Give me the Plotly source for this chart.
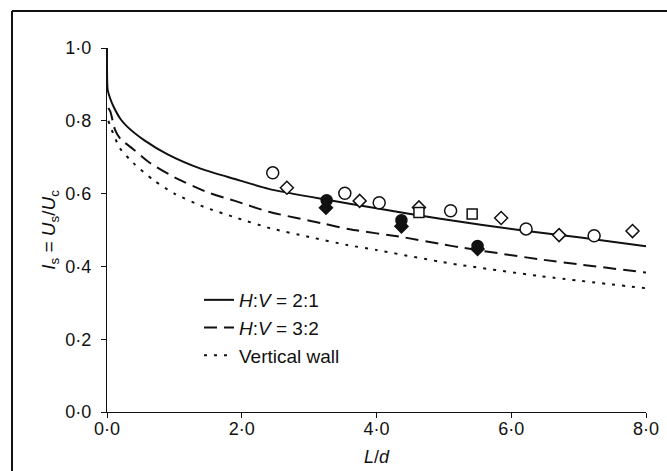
import plotly.graph_objects as go

# ---- data ----
x_solid = [0.0, 0.01, 0.05, 0.1, 0.2, 0.3, 0.55, 0.9, 1.4, 1.9, 2.4, 3.2, 4.0, 4.9, 6.2, 7.0, 8.0]
y_solid = [1.0, 0.885, 0.860, 0.838, 0.805, 0.784, 0.747, 0.708, 0.668, 0.640, 0.613, 0.585, 0.560, 0.532, 0.498, 0.480, 0.455]

x_dash = [0.02, 0.05, 0.12, 0.2, 0.39, 0.64, 1.0, 1.5, 1.9, 2.4, 3.2, 3.6, 4.4, 5.0, 5.25, 6.4, 8.0]
y_dash = [0.835, 0.825, 0.775, 0.750, 0.722, 0.684, 0.645, 0.603, 0.580, 0.550, 0.518, 0.502, 0.480, 0.460, 0.452, 0.420, 0.383]

x_dot = [0.02, 0.07, 0.19, 0.39, 0.69, 1.0, 1.43, 1.93, 2.42, 3.0, 3.56, 4.0, 4.94, 5.24, 6.4, 8.0]
y_dot = [0.800, 0.775, 0.725, 0.684, 0.637, 0.600, 0.564, 0.533, 0.505, 0.481, 0.459, 0.445, 0.413, 0.404, 0.374, 0.340]

circ_x = [2.46, 3.53, 4.04, 5.10, 6.22, 7.23]
circ_y = [0.657, 0.601, 0.575, 0.553, 0.503, 0.484]
diam_x = [2.67, 3.75, 4.63, 5.85, 6.71, 7.80]
diam_y = [0.616, 0.580, 0.562, 0.533, 0.486, 0.497]
sq_x = [4.63, 5.42]
sq_y = [0.548, 0.544]
fcirc_x = [3.26, 4.37, 5.50]
fcirc_y = [0.582, 0.527, 0.456]
fdiam_x = [3.25, 4.37, 5.50]
fdiam_y = [0.561, 0.510, 0.448]

x_ticks = [0, 2, 4, 6, 8]
x_ticktext = ["0·0", "2·0", "4·0", "6·0", "8·0"]
y_ticks = [0, 0.2, 0.4, 0.6, 0.8, 1.0]
y_ticktext = ["0·0", "0·2", "0·4", "0·6", "0·8", "1·0"]

names = ["<i>H</i>:<i>V</i> = 2:1", "<i>H</i>:<i>V</i> = 3:2", "Vertical wall"]

INK = "#111111"
FONT = "Liberation Sans, Arial, sans-serif"

fig = go.Figure()
fig.add_trace(go.Scatter(x=x_solid, y=y_solid, mode="lines", name=names[0],
                         line=dict(color=INK, width=2, shape="spline", smoothing=0.6), legendgroup="a"))
fig.add_trace(go.Scatter(x=x_dash, y=y_dash, mode="lines", name=names[1],
                         line=dict(color=INK, width=2, dash="13px,7px", shape="spline", smoothing=0.6), legendgroup="b"))
fig.add_trace(go.Scatter(x=x_dot, y=y_dot, mode="lines", name=names[2],
                         line=dict(color=INK, width=2, dash="3px,7px", shape="spline", smoothing=0.6), legendgroup="c"))

def mk(x, y, symbol, size, filled):
    fig.add_trace(go.Scatter(
        x=x, y=y, mode="markers", showlegend=False,
        marker=dict(symbol=symbol, size=size,
                    color=INK if filled else "white",
                    line=dict(color=INK, width=1.5))))

mk(circ_x, circ_y, "circle", 12, False)
mk(diam_x, diam_y, "diamond", 10, False)
mk(sq_x, sq_y, "square", 10, False)
mk(fdiam_x, fdiam_y, "diamond", 10, True)
mk(fcirc_x, fcirc_y, "circle", 11, True)

L, R, T, B = 107, 21, 48, 59
W, H = 667, 471
pw = W - L - R
ph = H - T - B

def px2paper_x(px):
    return (px - L) / pw

def py2paper_y(py):
    return (H - B - py) / ph

fig.update_layout(
    width=W, height=H,
    margin=dict(l=L, r=R, t=T, b=B, autoexpand=False),
    paper_bgcolor="white", plot_bgcolor="white",
    font=dict(family=FONT, size=17, color=INK),
    showlegend=True,
    legend=dict(x=px2paper_x(199), y=py2paper_y(281), xanchor="left", yanchor="top",
                bgcolor="rgba(0,0,0,0)", font=dict(size=19, family=FONT, color=INK),
                traceorder="grouped", tracegroupgap=0, itemwidth=30),
    xaxis=dict(range=[0, 8], tickvals=x_ticks, ticktext=x_ticktext, automargin=False,
               showgrid=False, zeroline=False, showline=True, linecolor=INK, linewidth=1.2,
               ticks="outside", ticklen=5, tickcolor=INK, tickwidth=1.2,
               ticklabelstandoff=-5,
               tickfont=dict(size=18, family=FONT, color=INK),
               title=dict(text="<i>L</i>/<i>d</i>", font=dict(size=18, family=FONT, color=INK), standoff=12)),
    yaxis=dict(range=[0, 1.0], tickvals=y_ticks, ticktext=y_ticktext, automargin=False,
               showgrid=False, zeroline=False, showline=True, linecolor=INK, linewidth=1.2,
               ticks="outside", ticklen=5, tickcolor=INK, tickwidth=1.2,
               ticklabelstandoff=6,
               tickfont=dict(size=18, family=FONT, color=INK),
               title=dict(text="<i>I</i><sub>s</sub> = <i>U</i><sub>s</sub>/<i>U</i><sub>c</sub>",
                          font=dict(size=19, family=FONT, color=INK), standoff=4)),
)

# outer frame (top and left edges visible in the reference)
fig.add_shape(type="line", xref="paper", yref="paper",
              x0=px2paper_x(12), x1=px2paper_x(670), y0=py2paper_y(11), y1=py2paper_y(11),
              line=dict(color=INK, width=2))
fig.add_shape(type="line", xref="paper", yref="paper",
              x0=px2paper_x(12), x1=px2paper_x(12), y0=py2paper_y(11), y1=py2paper_y(475),
              line=dict(color=INK, width=2))

fig.write_html("out.html")
